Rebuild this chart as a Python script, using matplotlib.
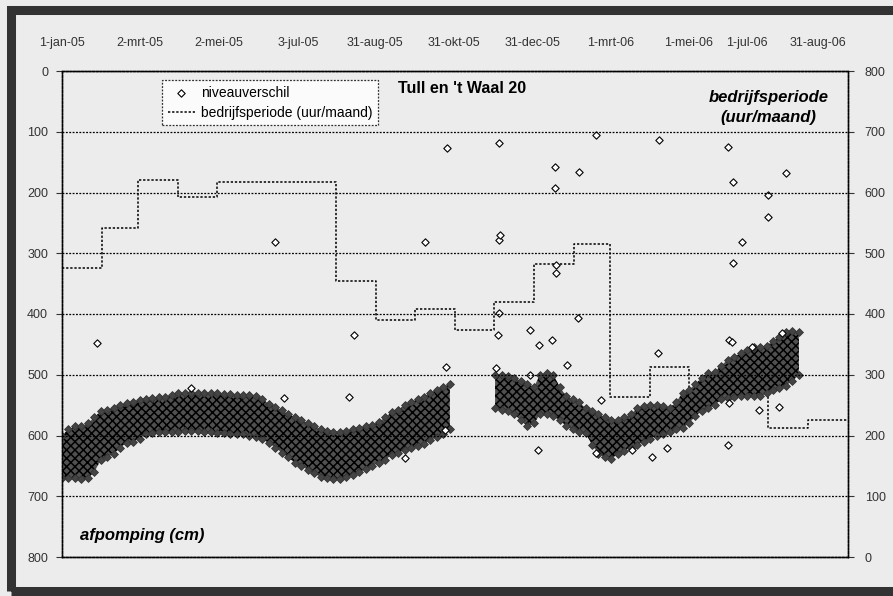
import matplotlib.pyplot as plt
from matplotlib.patches import Rectangle
import numpy as np
import pandas as pd

plt.rcParams['font.family'] = ['Liberation Sans', 'DejaVu Sans']
plt.rcParams['hatch.color'] = 'black'
plt.rcParams['hatch.linewidth'] = 1.1

# bedrijfsperiode per maand (uur/maand), rechter as
maanden = pd.date_range('2005-01-01', '2006-09-01', freq='MS')
uren = [475, 541, 620, 592, 618, 618, 618, 454, 390, 408, 373, 419,
        482, 515, 263, 313, 260, 295, 212, 225, 225]

# niveauverschil: boven- en onderrand van de puntenwolk (cm), elke 5 dagen
wolk_datum = pd.date_range('2005-01-01', periods=115, freq='5D')
nan = np.nan
wolk_boven = [600, 590, 585, 585, 580, 570, 560, 558, 555, 550, 547, 545, 542, 540, 538, 537,
              536, 533, 530, 530, 530, 530, 530, 530, 530, 532, 532, 533, 534, 534, 535, 540,
              548, 553, 558, 565, 570, 575, 580, 585, 590, 592, 594, 594, 592, 590, 588, 585,
              582, 578, 570, 562, 558, 550, 545, 540, 536, 530, 525, 520, 515,
              nan, nan, nan, nan, nan, nan,
              500, 500, 502, 505, 510, 515, 520, 500, 497, 500, 520, 535, 540, 545, 555, 560,
              565, 570, 575, 575, 570, 565, 555, 552, 550, 550, 552, 555, 545, 530, 525, 515,
              505, 497, 495, 485, 475, 470, 465, 460, 455, 455, 452, 445, 438, 430, 428, 430]
wolk_onder = [670, 670, 670, 672, 670, 660, 640, 635, 630, 620, 612, 610, 605, 598, 596, 595,
              594, 594, 594, 593, 592, 592, 594, 595, 596, 596, 597, 598, 598, 600, 602, 606,
              612, 620, 628, 636, 645, 650, 656, 662, 668, 670, 672, 672, 668, 665, 660, 655,
              650, 645, 640, 632, 628, 624, 620, 618, 614, 608, 602, 598, 590,
              nan, nan, nan, nan, nan, nan,
              555, 558, 560, 565, 575, 585, 580, 565, 565, 568, 575, 585, 590, 594, 596, 615,
              630, 635, 638, 630, 625, 620, 615, 610, 605, 600, 598, 595, 590, 588, 580, 568,
              560, 555, 550, 540, 538, 536, 535, 535, 535, 535, 530, 525, 522, 518, 510, 500]

# losse metingen buiten de wolk
los_datum = pd.to_datetime([
    '2005-01-28', '2005-04-11', '2005-06-15', '2005-06-22', '2005-08-11', '2005-08-15',
    '2005-09-23', '2005-10-09', '2005-10-24', '2005-10-25', '2005-10-26',
    '2005-12-03', '2005-12-04', '2005-12-05', '2005-12-05', '2005-12-05', '2005-12-06',
    '2005-12-29', '2005-12-29', '2006-01-04', '2006-01-05', '2006-01-15', '2006-01-17',
    '2006-01-17', '2006-01-18', '2006-01-18', '2006-01-27', '2006-02-04', '2006-02-05',
    '2006-02-18', '2006-02-18', '2006-02-22', '2006-03-18', '2006-04-02', '2006-04-07',
    '2006-04-08', '2006-04-14', '2006-05-31', '2006-05-31', '2006-06-01', '2006-06-01',
    '2006-06-03', '2006-06-04', '2006-06-04', '2006-06-11', '2006-06-19', '2006-06-24',
    '2006-07-01', '2006-07-01', '2006-07-10', '2006-07-12', '2006-07-15'])
los_waarde = [448, 522, 281, 538, 537, 435,
              637, 281, 591, 487, 127,
              489, 435, 119, 278, 398, 270,
              426, 500, 624, 451, 443, 158,
              193, 333, 320, 484, 407, 166,
              105, 629, 542, 624, 635, 464,
              114, 621, 125, 616, 443, 547,
              446, 183, 316, 281, 454, 558,
              204, 240, 553, 431, 168]

tick_datum = pd.to_datetime(['2005-01-01', '2005-03-02', '2005-05-02', '2005-07-03', '2005-08-31',
                             '2005-10-31', '2005-12-31', '2006-03-01', '2006-05-01', '2006-07-01',
                             '2006-08-31'])
tick_tekst = ['1-jan-05', '2-mrt-05', '2-mei-05', '3-jul-05', '31-aug-05', '31-okt-05',
              '31-dec-05', '1-mrt-06', '1-mei-06', '1-jul-06', '31-aug-06']
as_waarden = [0, 100, 200, 300, 400, 500, 600, 700, 800]

W, H = 893, 596
fig = plt.figure(figsize=(W / 100, H / 100), dpi=100, facecolor='#ececec')
ax = fig.add_axes([62 / W, 1 - 557 / H, (848 - 62) / W, (557 - 71) / H])
ax2 = ax.twinx()
ax.set_zorder(2)
ax2.set_zorder(1)
ax.patch.set_visible(False)
ax2.patch.set_facecolor('white')

stip = (0, (1.5, 1.2))

# bedrijfsperiode (rechter as)
lijn, = ax2.step(maanden, uren, where='post', color='black', lw=1.1, linestyle=stip)
ax2.set_ylim(0, 800)
ax2.set_yticks(as_waarden)

# niveauverschil (linker as, omgekeerd)
ax.fill_between(wolk_datum, wolk_boven, wolk_onder, facecolor='#505050', edgecolor='black',
                hatch='xxxx', lw=0)
ax.scatter(wolk_datum, wolk_boven, marker='D', s=16, facecolor='#444444', edgecolor='#333333', lw=0.6)
ax.scatter(wolk_datum, wolk_onder, marker='D', s=16, facecolor='#444444', edgecolor='#333333', lw=0.6)
punten = ax.scatter(los_datum, los_waarde, marker='D', s=14, facecolor='white',
                    edgecolor='black', lw=0.8)
ax.set_ylim(800, 0)
ax.set_yticks(as_waarden)
ax.set_xlim(pd.Timestamp('2005-01-01'), pd.Timestamp('2006-09-01'))
ax.grid(axis='y', color='black', lw=0.9, linestyle=stip)

ax.xaxis.tick_top()
ax.set_xticks(tick_datum)
ax.set_xticklabels(tick_tekst)
labels = ax.get_xticklabels()
labels[-1].set_horizontalalignment('right')
labels[-2].set_horizontalalignment('right')
ax.tick_params(axis='x', length=0, pad=16, labelsize=9, colors='#333333')
ax.tick_params(axis='y', length=4, width=0.8, labelsize=9, colors='#333333', pad=6)
ax2.tick_params(axis='y', length=4, width=0.8, labelsize=9, colors='#333333', pad=8)

for a in (ax, ax2):
    for sp in a.spines.values():
        sp.set_linestyle(stip)
        sp.set_linewidth(1.0)
        sp.set_edgecolor('black')

ax.text(0.427, 0.965, "Tull en 't Waal 20", transform=ax.transAxes, fontsize=11.5,
        fontweight='bold', va='center', ha='left')
ax.text(0.899, 0.945, 'bedrijfsperiode', transform=ax.transAxes, fontsize=12,
        fontweight='bold', fontstyle='italic', ha='center', va='center')
ax.text(0.899, 0.905, '(uur/maand)', transform=ax.transAxes, fontsize=12,
        fontweight='bold', fontstyle='italic', ha='center', va='center')
ax.text(0.023, 0.045, 'afpomping (cm)', transform=ax.transAxes, fontsize=12,
        fontweight='bold', fontstyle='italic', ha='left', va='center')

leg = ax.legend([punten, lijn], ['niveauverschil', 'bedrijfsperiode (uur/maand)'],
                loc='upper left', bbox_to_anchor=((162 - 62) / 786, (557 - 80) / 486),
                borderaxespad=0, fontsize=10, frameon=True, fancybox=False,
                handlelength=2.0, handletextpad=0.4, borderpad=0.4, labelspacing=0.45)
leg.get_frame().set_edgecolor('black')
leg.get_frame().set_linestyle(stip)
leg.get_frame().set_linewidth(0.9)

fig.patches.append(Rectangle((11 / W, 1 - 591 / H), 2.0, (591 - 10) / H, transform=fig.transFigure,
                             fill=False, lw=6.5, edgecolor='#333333'))

fig.savefig('out.png', dpi=100, facecolor=fig.get_facecolor())
